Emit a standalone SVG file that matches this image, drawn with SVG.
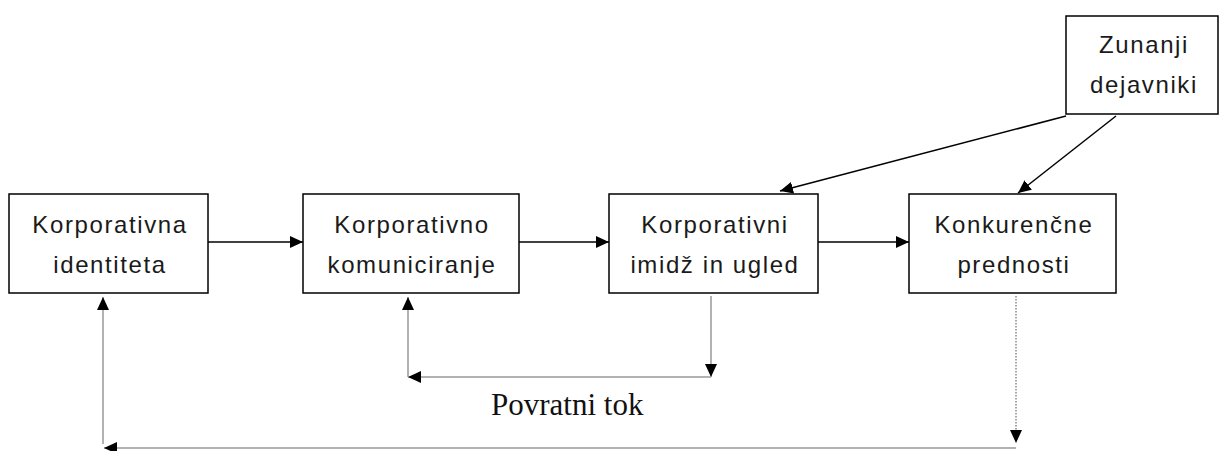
<svg xmlns="http://www.w3.org/2000/svg" width="1220" height="451" viewBox="0 0 1220 451">
<style>
.box{fill:#fff;stroke:#000;stroke-width:1.5}
.lbl{font-family:"Liberation Sans","Open Sans",sans-serif;font-size:24px;letter-spacing:1.6px;fill:#1a1a1a;text-anchor:middle}
.main{stroke:#000;stroke-width:1.5;fill:none}
.fb{stroke:#999;stroke-width:1.5;fill:none}
.dot{stroke:#888;stroke-width:1.5;fill:none;stroke-dasharray:1.5 1.5}
.cap{font-family:"Liberation Serif",serif;font-size:31px;fill:#111}
</style>
<defs>
<marker id="ah" markerUnits="userSpaceOnUse" markerWidth="14" markerHeight="12" viewBox="0 0 14 12" refX="13" refY="6" orient="auto">
<path d="M0,0 L13,6 L0,12 Z" fill="#000"/>
</marker>
</defs>
<g id="connectors">
<line class="main" x1="208" y1="242" x2="303" y2="242" marker-end="url(#ah)"/>
<line class="main" x1="519" y1="242" x2="609" y2="242" marker-end="url(#ah)"/>
<line class="main" x1="818" y1="242" x2="909" y2="242" marker-end="url(#ah)"/>
<line class="main" x1="1066" y1="116" x2="780" y2="191" marker-end="url(#ah)"/>
<line class="main" x1="1116" y1="116" x2="1018" y2="193" marker-end="url(#ah)"/>
<line class="fb" x1="711" y1="296" x2="711" y2="377" marker-end="url(#ah)"/>
<line class="fb" x1="711" y1="377" x2="408" y2="377" marker-end="url(#ah)"/>
<line class="fb" x1="408" y1="377" x2="408" y2="297" marker-end="url(#ah)"/>
<line class="dot" x1="1016" y1="296" x2="1016" y2="443" marker-end="url(#ah)"/>
<line class="fb" x1="1016" y1="448" x2="104" y2="448" marker-end="url(#ah)"/>
<line class="fb" x1="103" y1="444" x2="103" y2="297" marker-end="url(#ah)"/>
</g>
<g id="n1">
<rect class="box" x="9" y="194" width="199" height="99"/>
<text class="lbl" x="110" y="233">Korporativna</text>
<text class="lbl" x="110" y="273">identiteta</text>
</g>
<g id="n2">
<rect class="box" x="303" y="194" width="216" height="99"/>
<text class="lbl" x="412" y="233">Korporativno</text>
<text class="lbl" x="412" y="273">komuniciranje</text>
</g>
<g id="n3">
<rect class="box" x="609" y="194" width="209" height="99"/>
<text class="lbl" x="715" y="233">Korporativni</text>
<text class="lbl" x="715" y="273">imidž in ugled</text>
</g>
<g id="n4">
<rect class="box" x="909" y="194" width="207" height="99"/>
<text class="lbl" x="1014" y="233">Konkurenčne</text>
<text class="lbl" x="1014" y="273">prednosti</text>
</g>
<g id="n5">
<rect class="box" x="1066" y="16" width="152" height="98"/>
<text class="lbl" x="1144" y="53">Zunanji</text>
<text class="lbl" x="1144" y="93">dejavniki</text>
</g>
<text class="cap" x="491" y="415">Povratni tok</text>
</svg>
